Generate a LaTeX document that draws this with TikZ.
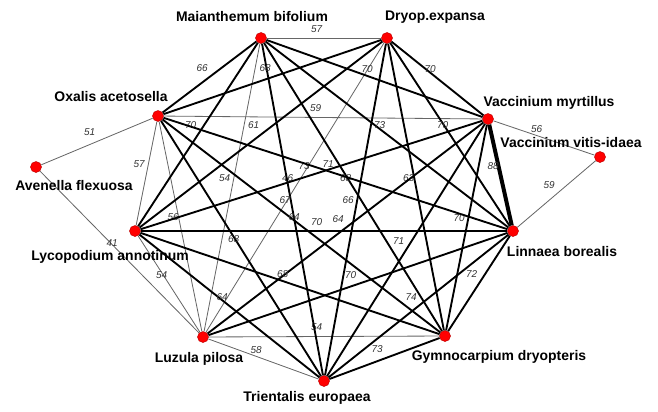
\documentclass[tikz,border=0pt]{standalone}
\usepackage{fontspec}
\setmainfont{Liberation Sans}
\begin{document}
\begin{tikzpicture}[x=0.03cm,y=-0.03cm,
  sp/.style={circle,fill=red,draw=red!75!black,inner sep=0pt,minimum size=0.33cm},
  nm/.style={font=\fontsize{11.9}{12}\selectfont\bfseries,inner sep=0pt},
  lbl/.style={midway,xshift=-0.22cm,yshift=0.28cm,font=\fontsize{8.5}{9}\selectfont\itshape,text=black!80,inner sep=0pt},
  weak/.style={black!60,line width=0.7pt},
  strong/.style={black,line width=1.6pt}]
\useasboundingbox (0,0) rectangle (658,412);
% species
\foreach \n/\x/\y in {M/261/38,D/387/38,VM/488/119,L/513/231,G/445/336,T/324/381,Lz/203/337,Ly/135/231,O/158/116,A/36/167,VV/600/157}
  \node[sp] (\n) at (\x,\y) {};
% co-occurrence ties
\foreach \a/\b/\w in {M/D/57,M/Lz/54,D/Lz/46,VM/O/59,O/Ly/57,Lz/Ly/54,Lz/O/56,T/Lz/58,G/Lz/54,A/O/51,A/Lz/41,VM/VV/56,L/VV/59}
  \draw[weak] (\a) -- (\b) node[lbl] {\w};
\foreach \a/\b/\w in {M/VM/70,M/L/73,M/G/68,M/T/67,M/Ly/70,M/O/66,D/VM/70,D/L/70,D/G/63,D/T/66,D/Ly/61,D/O/68,
  VM/G/70,VM/T/71,VM/Lz/64,VM/Ly/73,L/G/72,L/T/74,L/Lz/70,L/Ly/70,L/O/71,G/T/73,G/Ly/68,G/O/64,T/Ly/64,T/O/68}
  \draw[strong] (\a) -- (\b) node[lbl] {\w};
\draw[black,line width=3.4pt] (VM) -- (L) node[lbl] {88};
% names
\node[nm] (Mn) at (252,17) {Maianthemum bifolium};
\node[nm] (Dn) at (435,17) {Dryop.expansa};
\node[nm] (VMn) at (549,103) {Vaccinium myrtillus};
\node[nm] (VVn) at (571,143) {Vaccinium vitis-idaea};
\node[nm] (Ln) at (562,252) {Linnaea borealis};
\node[nm] (Gn) at (499,357) {Gymnocarpium dryopteris};
\node[nm] (Tn) at (307,398) {Trientalis europaea};
\node[nm] (Lzn) at (199,359) {Luzula pilosa};
\node[nm] (Lyn) at (110,257) {Lycopodium annotinum};
\node[nm] (On) at (111,97) {Oxalis acetosella};
\node[nm] (An) at (74,186) {Avenella flexuosa};
\end{tikzpicture}
\end{document}
